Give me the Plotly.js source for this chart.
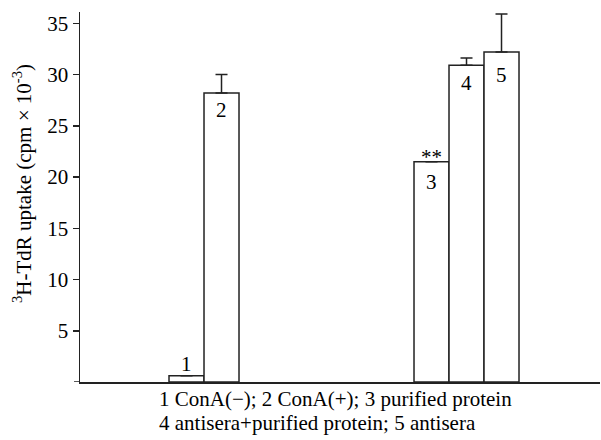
<!DOCTYPE html>
<html>
<head>
<meta charset="utf-8">
<script src="https://cdn.plot.ly/plotly-3.0.1.min.js"></script>
<style>html,body{margin:0;padding:0;background:#fff;}#chart{width:601px;height:440px;}</style>
</head>
<body>
<div id="chart"></div>
<script>
// ---- data ----
var groups = ["1", "2", "3", "4", "5"];
var uptake = [0.6, 28.2, 21.5, 30.9, 32.2];
var uptakeErr = [0, 1.8, 0, 0.7, 3.7];
var significance = ["", "", "**", "", ""];
var yTicks = [5, 10, 15, 20, 25, 30, 35];
var yTickText = ["5", "10", "15", "20", "25", "30", "35"];
var yTitle = "<sup>3</sup>H-TdR uptake (cpm × 10<sup>-3</sup>)";
var legendLines = ["1 ConA(−); 2 ConA(+); 3 purified protein", "4 antisera+purified protein; 5 antisera"];

// ---- layout constants (positions / styles) ----
var xPos = [1, 2, 8, 9, 10];
var labelShift = [12, -17.5, -20.5, -18, -23];
var FONT = "Liberation Serif";
var FS = 21;
var INK = "#222";

var trace = {
  type: "bar",
  x: xPos,
  y: uptake,
  width: 1,
  marker: {color: "#ffffff", line: {color: INK, width: 1.5}},
  error_y: {type: "data", symmetric: false, array: uptakeErr,
            arrayminus: uptakeErr.map(function(){return 0;}),
            color: INK, thickness: 1.5, width: 6},
  hoverinfo: "none"
};

var annotations = [];
groups.forEach(function(g, i){
  annotations.push({x: xPos[i], y: uptake[i], xref: "x", yref: "y", text: g,
    showarrow: false, yanchor: "middle", xanchor: "center", yshift: labelShift[i],
    font: {family: FONT, size: FS, color: "#000"}});
  if (significance[i]) {
    annotations.push({x: xPos[i], y: uptake[i], xref: "x", yref: "y", text: significance[i],
      showarrow: false, yanchor: "middle", xanchor: "center", yshift: 5,
      font: {family: FONT, size: FS, color: "#000"}});
  }
});
annotations.push({x: -0.1115, y: 0.535, xref: "paper", yref: "paper", text: yTitle,
  textangle: -90, showarrow: false, xanchor: "center", yanchor: "middle",
  font: {family: FONT, size: FS, color: "#000"}});
annotations.push({x: 0.148, y: -0.0454, xref: "paper", yref: "paper", text: legendLines[0],
  showarrow: false, xanchor: "left", yanchor: "middle", align: "left",
  font: {family: FONT, size: FS, color: "#000"}});
annotations.push({x: 0.148, y: -0.1104, xref: "paper", yref: "paper", text: legendLines[1],
  showarrow: false, xanchor: "left", yanchor: "middle", align: "left",
  font: {family: FONT, size: FS, color: "#000"}});

var layout = {
  width: 601, height: 440,
  margin: {l: 80, r: 1, t: 12, b: 58, pad: 0},
  paper_bgcolor: "#fff", plot_bgcolor: "#fff",
  showlegend: false,
  font: {family: FONT, size: FS, color: "#000"},
  xaxis: {range: [-2.043, 12.814], showline: true, linecolor: INK, linewidth: 1.5,
          showticklabels: false, ticks: "", showgrid: false, zeroline: false, fixedrange: true},
  yaxis: {range: [0, 36.1], showline: true, linecolor: INK, linewidth: 1.5,
          tickvals: yTicks, ticktext: yTickText, ticks: "outside", ticklen: 6, tickwidth: 1.5,
          tickcolor: INK, tickfont: {family: FONT, size: FS, color: "#000"},
          showgrid: false, zeroline: false, fixedrange: true},
  shapes: [{type: "line", xref: "paper", yref: "y", x0: -0.0115, x1: 0, y0: 0, y1: 0,
            line: {color: INK, width: 1.5}}],
  annotations: annotations
};

Plotly.newPlot("chart", [trace], layout, {staticPlot: true, displayModeBar: false});
</script>
</body>
</html>
